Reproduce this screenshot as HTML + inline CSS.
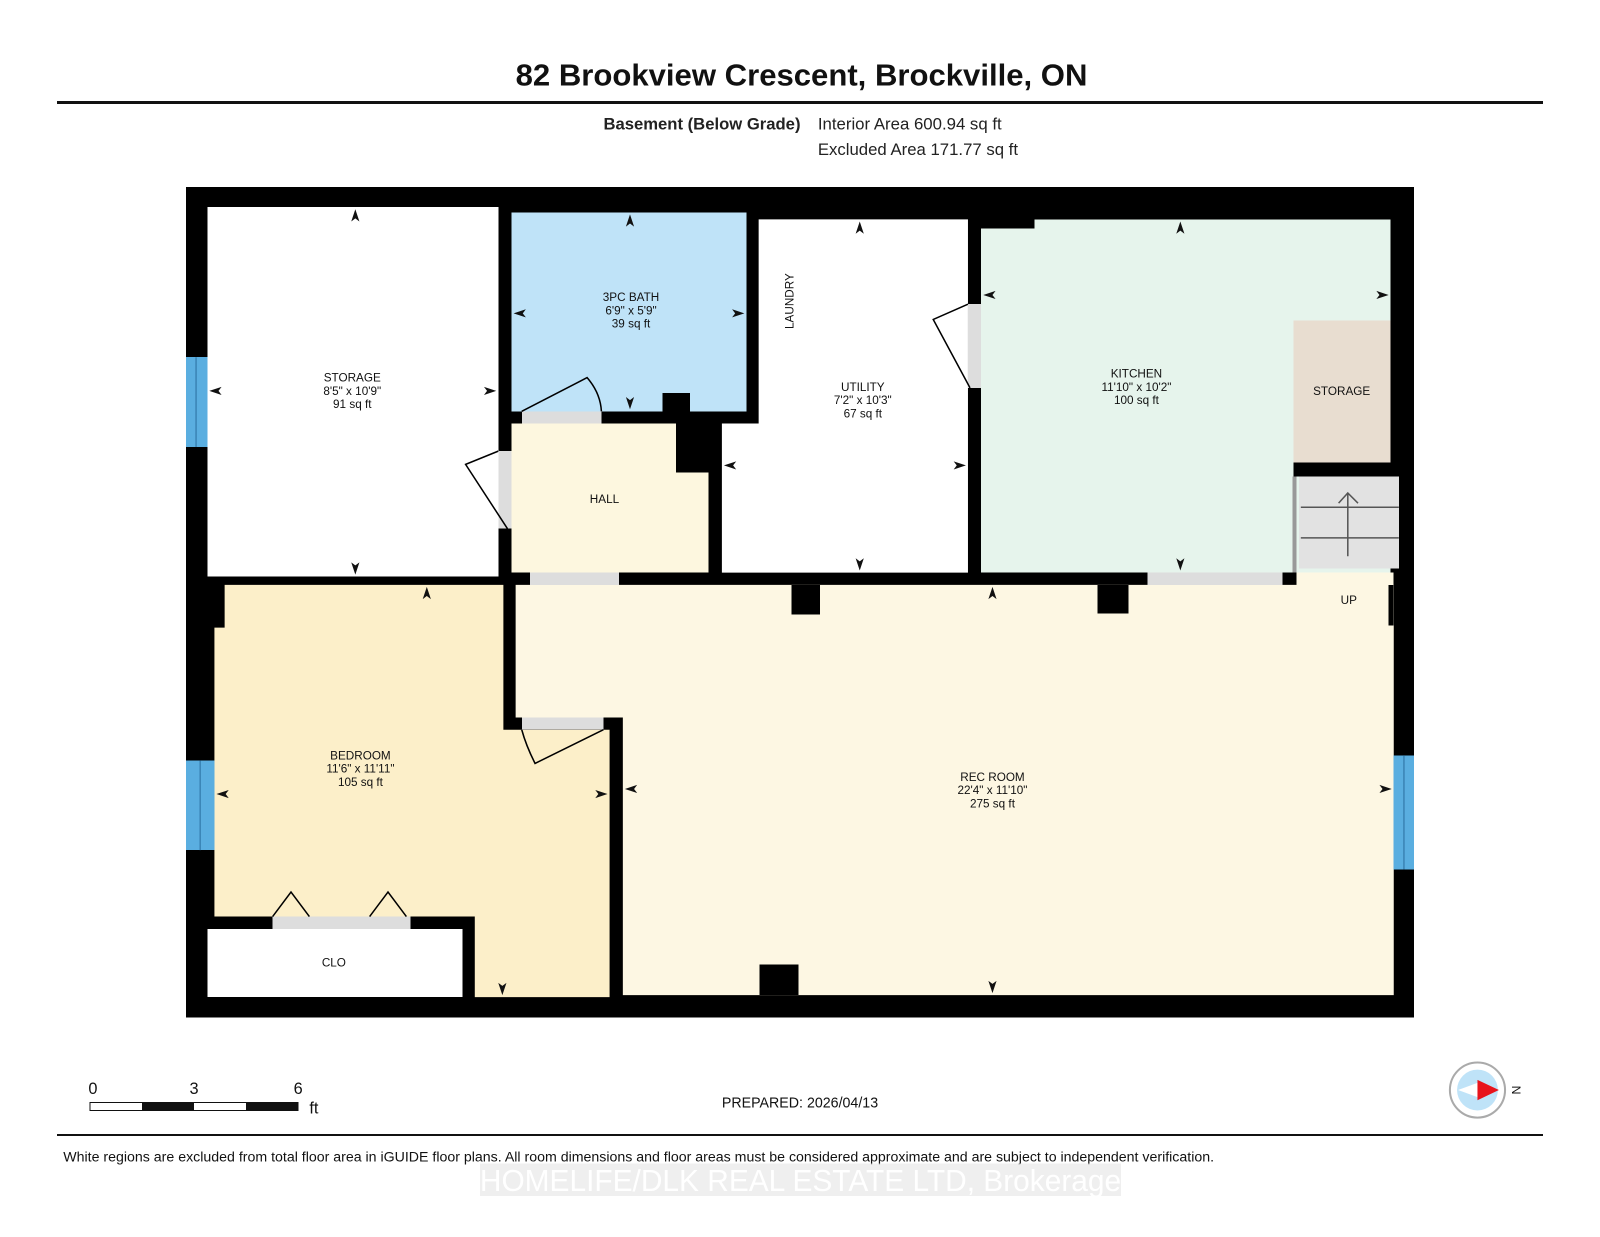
<!DOCTYPE html>
<html><head><meta charset="utf-8"><style>
html,body{margin:0;padding:0;background:#fff;}
svg{display:block;font-family:"Liberation Sans",Arial,sans-serif;}
rect{shape-rendering:crispEdges;}
</style></head><body>
<svg width="1600" height="1237" viewBox="0 0 1567 1212" preserveAspectRatio="none" xmlns="http://www.w3.org/2000/svg">
<rect width="1567" height="1212" fill="#fff"/>
<text x="505" y="84" font-size="30" font-weight="bold" fill="#111" textLength="560" lengthAdjust="spacingAndGlyphs">82 Brookview Crescent, Brockville, ON</text>
<rect x="56" y="99" width="1455" height="3" fill="#111"/>
<text x="591" y="127" font-size="16" font-weight="bold" fill="#222" textLength="193" lengthAdjust="spacingAndGlyphs">Basement (Below Grade)</text>
<text x="801" y="127" font-size="16" fill="#222" textLength="180" lengthAdjust="spacingAndGlyphs">Interior Area 600.94 sq ft</text>
<text x="801" y="152" font-size="16" fill="#222" textLength="196" lengthAdjust="spacingAndGlyphs">Excluded Area 171.77 sq ft</text>

<rect x="182" y="183" width="1203" height="814" fill="#000"/>
<rect x="203" y="203" width="285" height="362" fill="#fff"/>
<rect x="501" y="208" width="230" height="195" fill="#bfe3f8"/>
<path d="M743 215 H948 V561 H707 V415 H743 Z" fill="#fff"/>
<rect x="501" y="415" width="193" height="146" fill="#fdf7df"/>
<rect x="662" y="403" width="32" height="60" fill="#000"/>
<rect x="649" y="385" width="27" height="20" fill="#000"/>
<rect x="961" y="215" width="401" height="346" fill="#e6f4ec"/>
<rect x="961" y="215" width="52" height="9" fill="#000"/>
<rect x="1267" y="314" width="95" height="139" fill="#e8ddd0"/>
<rect x="1267" y="453" width="103" height="14" fill="#000"/>
<rect x="1272" y="467" width="98" height="90" fill="#e2e2e2"/>
<g stroke="#555" stroke-width="1.5"><line x1="1274" y1="497" x2="1370" y2="497"/><line x1="1274" y1="527" x2="1370" y2="527"/><line x1="1320" y1="545" x2="1320" y2="483"/><polyline points="1311,493 1320,483 1330,493" fill="none"/></g>
<rect x="1266" y="467" width="4" height="94" fill="#999"/>
<path d="M220 573 H493 V715 H597 V977 H465 V898 H210 V615 H220 Z" fill="#fcefc9"/>
<rect x="203" y="910" width="250" height="67" fill="#fff"/>
<path d="M505 573 H1365 V975 H610 V703 H505 Z" fill="#fdf7e3"/>
<rect x="1270" y="561" width="95" height="12" fill="#fdf7e3"/>
<rect x="1360" y="573" width="5" height="40" fill="#000"/>
<rect x="775" y="573" width="28" height="29" fill="#000"/>
<rect x="1075" y="573" width="30" height="28" fill="#000"/>
<rect x="744" y="945" width="38" height="30" fill="#000"/>
<rect x="519" y="561" width="87" height="12" fill="#ddd"/>
<rect x="1124" y="561" width="132" height="12" fill="#ddd"/>
<rect x="511" y="403" width="78" height="12" fill="#ddd"/>
<rect x="488" y="442" width="13" height="76" fill="#ddd"/>
<rect x="948" y="298" width="13" height="82" fill="#ddd"/>
<rect x="511" y="703" width="80" height="12" fill="#ddd"/>
<rect x="267" y="898" width="135" height="12" fill="#ddd"/>
<g stroke="#000" stroke-width="1.5" fill="none">
<path d="M511 403 L575 370 Q588 385 589 403"/>
<path d="M488 442 L456 455 L497 518"/>
<path d="M948 298 L914 313 L950 380"/>
<path d="M591 715 L524 748 Q515 730 511 715"/>
<path d="M267 898 L285 874 L303 898 M362 898 L380 874 L398 898"/>
</g>
<g fill="#5aaee0"><rect x="182" y="350" width="21" height="88"/><rect x="182" y="745" width="28" height="88"/><rect x="1365" y="740" width="20" height="112"/></g>
<g stroke="#2a6fa0" stroke-width="1"><line x1="192" y1="350" x2="192" y2="438"/><line x1="196" y1="745" x2="196" y2="833"/><line x1="1375" y1="740" x2="1375" y2="852"/></g>

<g font-size="11.5" fill="#111" text-anchor="middle">
<text x="345" y="374">STORAGE</text><text x="345" y="387">8'5" x 10'9"</text><text x="345" y="400">91 sq ft</text>
<text x="618" y="295">3PC BATH</text><text x="618" y="308">6'9" x 5'9"</text><text x="618" y="321">39 sq ft</text>
<text x="845" y="383">UTILITY</text><text x="845" y="396">7'2" x 10'3"</text><text x="845" y="409">67 sq ft</text>
<text x="1113" y="370">KITCHEN</text><text x="1113" y="383">11'10" x 10'2"</text><text x="1113" y="396">100 sq ft</text>
<text x="1314" y="387">STORAGE</text>
<text x="592" y="493">HALL</text>
<text x="1321" y="592">UP</text>
<text x="353" y="744">BEDROOM</text><text x="353" y="757">11'6" x 11'11"</text><text x="353" y="770">105 sq ft</text>
<text x="972" y="765">REC ROOM</text><text x="972" y="778">22'4" x 11'10"</text><text x="972" y="791">275 sq ft</text>
<text x="327" y="947">CLO</text>
<text x="0" y="0" transform="translate(777,295) rotate(-90)">LAUNDRY</text>
</g>
<g fill="#111">
<path d="M348 205 l-4 12 l4 -3 l4 3z"/><path d="M348 563 l-4 -12 l4 3 l4 -3z"/>
<path d="M205 383 l12 -4 l-3 4 l3 4z"/><path d="M486 383 l-12 -4 l3 4 l-3 4z"/>
<path d="M617 210 l-4 12 l4 -3 l4 3z"/><path d="M617 401 l-4 -12 l4 3 l4 -3z"/>
<path d="M503 307 l12 -4 l-3 4 l3 4z"/><path d="M729 307 l-12 -4 l3 4 l-3 4z"/>
<path d="M842 217 l-4 12 l4 -3 l4 3z"/><path d="M842 559 l-4 -12 l4 3 l4 -3z"/>
<path d="M709 456 l12 -4 l-3 4 l3 4z"/><path d="M946 456 l-12 -4 l3 4 l-3 4z"/>
<path d="M1156 217 l-4 12 l4 -3 l4 3z"/><path d="M1156 559 l-4 -12 l4 3 l4 -3z"/>
<path d="M963 289 l12 -4 l-3 4 l3 4z"/><path d="M1360 289 l-12 -4 l3 4 l-3 4z"/>
<path d="M418 575 l-4 12 l4 -3 l4 3z"/><path d="M492 975 l-4 -12 l4 3 l4 -3z"/>
<path d="M212 778 l12 -4 l-3 4 l3 4z"/><path d="M595 778 l-12 -4 l3 4 l-3 4z"/>
<path d="M972 575 l-4 12 l4 -3 l4 3z"/><path d="M972 973 l-4 -12 l4 3 l4 -3z"/>
<path d="M612 773 l12 -4 l-3 4 l3 4z"/><path d="M1363 773 l-12 -4 l3 4 l-3 4z"/>
</g>

<g font-size="16" fill="#111">
<text x="91" y="1072" text-anchor="middle">0</text><text x="190" y="1072" text-anchor="middle">3</text><text x="292" y="1072" text-anchor="middle">6</text>
<text x="303" y="1091">ft</text>
</g>
<rect x="88" y="1080" width="204" height="8" fill="#fff" stroke="#111" stroke-width="1"/>
<rect x="139" y="1080" width="51" height="8" fill="#111"/><rect x="241" y="1080" width="51" height="8" fill="#111"/>
<text x="707" y="1085" font-size="14.5" fill="#111" textLength="153" lengthAdjust="spacingAndGlyphs">PREPARED: 2026/04/13</text>
<circle cx="1447" cy="1068" r="27" fill="#fff" stroke="#aaa" stroke-width="2"/>
<circle cx="1447" cy="1068" r="20" fill="#bfe3f8"/>
<path d="M1428 1068 L1447 1061 L1447 1075z" fill="#fff"/>
<path d="M1447 1058 L1468 1068 L1447 1078z" fill="#e8141c"/>
<text x="1484" y="1073" font-size="12" text-anchor="middle" fill="#111" transform="rotate(-90 1484 1068)">N</text>

<rect x="56" y="1111" width="1455" height="2" fill="#111"/>
<text x="62" y="1138" font-size="13.5" fill="#111" textLength="1127" lengthAdjust="spacingAndGlyphs">White regions are excluded from total floor area in iGUIDE floor plans. All room dimensions and floor areas must be considered approximate and are subject to independent verification.</text>
<rect x="470" y="1140" width="628" height="32" fill="#e8e8e8" opacity="0.7"/>
<text x="470" y="1167" font-size="30" fill="#fff" textLength="628" lengthAdjust="spacingAndGlyphs">HOMELIFE/DLK REAL ESTATE LTD, Brokerage</text>
</svg>
</body></html>
